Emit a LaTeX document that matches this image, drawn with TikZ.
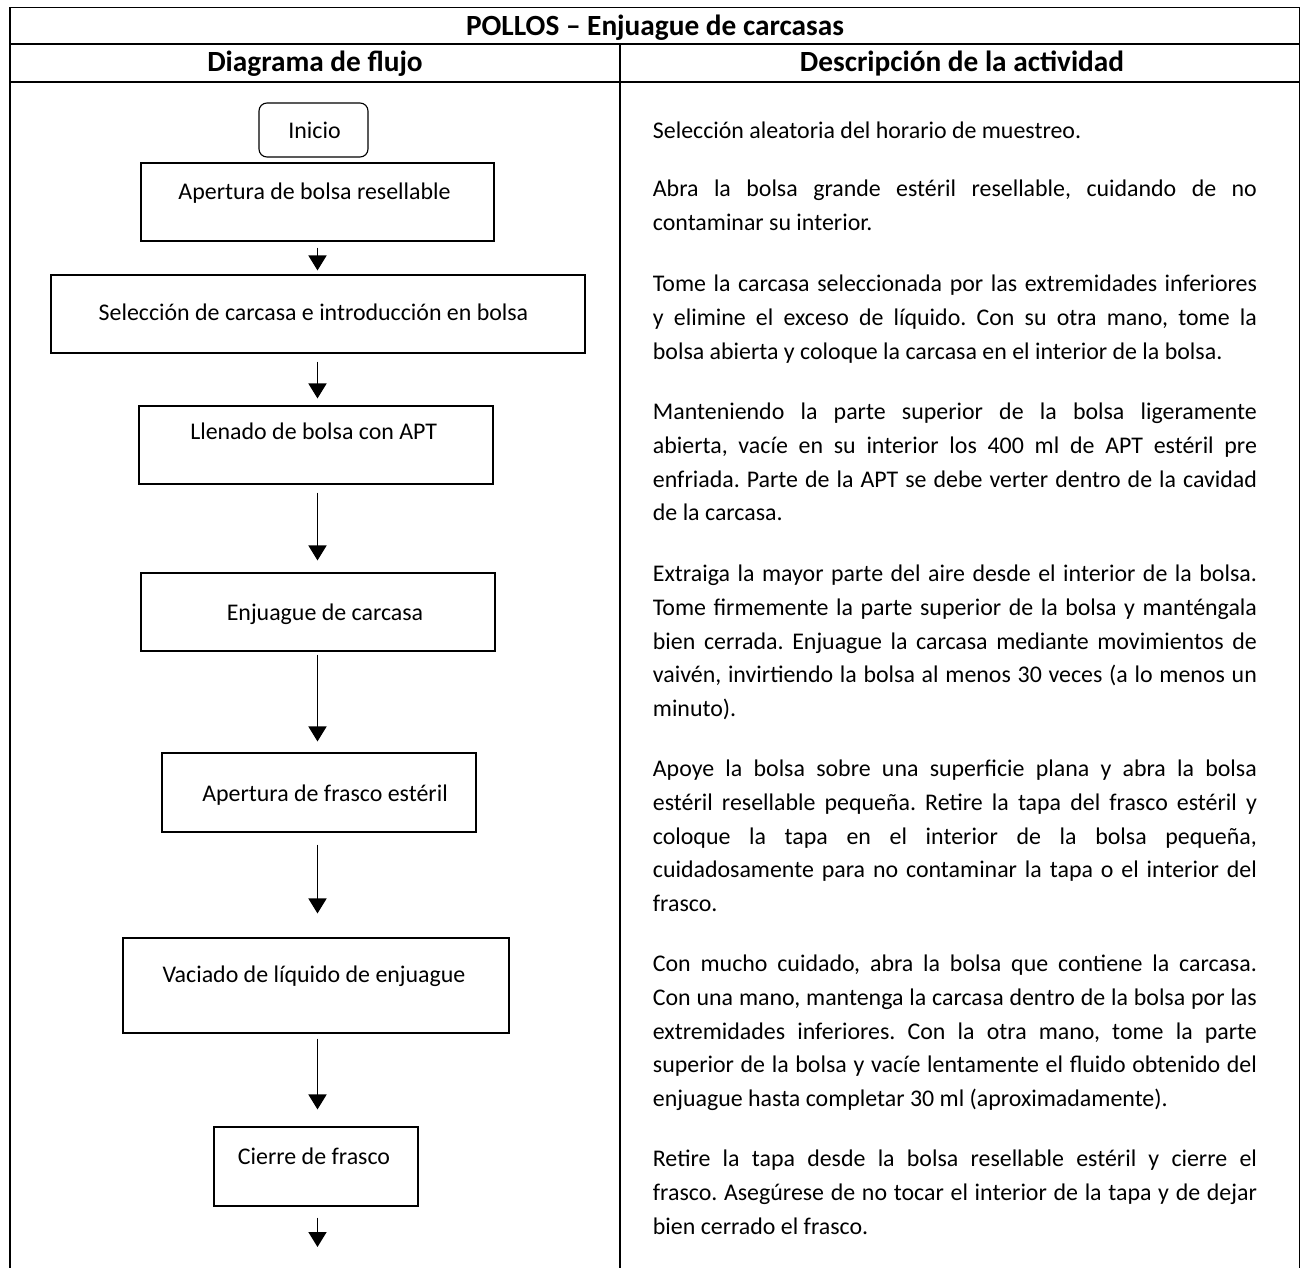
\documentclass[tikz,border=0pt]{standalone}
\usepackage{fontspec}
\setmainfont{Carlito}
\usetikzlibrary{arrows.meta}
\hyphenpenalty=10000
\exhyphenpenalty=10000
\tolerance=10000
\hbadness=10000
\hfuzz=20pt
\frenchspacing
\begin{document}
\frenchspacing
\begin{tikzpicture}[x=1pt,y=-1pt,
  tbl/.style={line width=1.7pt, line cap=rect},
  box/.style={draw, line width=1.1pt, inner sep=0pt, fill=white},
  txt/.style={font=\fontsize{23.9}{33.8}\selectfont, inner sep=0pt, anchor=base},
  para/.style={font=\fontsize{23.9}{33.8}\selectfont\frenchspacing, inner sep=0pt, anchor=base west, text width=604pt, align=justify},
  hdr/.style={font=\bfseries\fontsize{29.3}{35}\selectfont, inner sep=0pt, anchor=base},
  arr/.style={line width=1.7pt, -{Triangle[width=18pt,length=15pt]}}]
\useasboundingbox (0,0) rectangle (1301,1268);
\fill[white] (0,0) rectangle (1301,1268);
% table
\draw[tbl] (10,1270) -- (10,7.5) -- (1299.5,7.5) -- (1299.5,1270);
\draw[tbl] (10,44) -- (1299.5,44);
\draw[tbl] (10,82) -- (1299.5,82);
\draw[tbl] (620,44) -- (620,1270);
% headers
\node[hdr] (ttl) at (655,35.5) {POLLOS – Enjuague de carcasas};
\node[hdr] (h1) at (315,72) {Diagrama de flujo};
\node[hdr] (h2) at (962,72) {Descripción de la actividad};
% flow boxes
\node[box, rounded corners=8pt, minimum width=109pt, minimum height=54pt] (b0) at (313.5,130) {};
\node[box, minimum width=353pt, minimum height=78pt] (b1) at (317.5,202) {};
\node[box, minimum width=534pt, minimum height=78pt] (b2) at (318,314) {};
\node[box, minimum width=354pt, minimum height=78pt] (b3) at (316,445) {};
\node[box, minimum width=354pt, minimum height=78pt] (b4) at (318,612) {};
\node[box, minimum width=314pt, minimum height=79pt] (b5) at (319,792.5) {};
\node[box, minimum width=386pt, minimum height=95pt] (b6) at (316,985.5) {};
\node[box, minimum width=204pt, minimum height=79pt] (b7) at (316,1166.5) {};
% box texts
\node[txt] (t0) at (314.5,138.5) {Inicio};
\node[txt] (t1) at (314.5,199.5) {Apertura de bolsa resellable};
\node[txt] (t2) at (313.5,320.5) {Selección de carcasa e introducción en bolsa};
\node[txt] (t3) at (313.7,439.5) {Llenado de bolsa con APT};
\node[txt] (t4) at (325,620.5) {Enjuague de carcasa};
\node[txt] (t5) at (325,801.5) {Apertura de frasco estéril};
\node[txt] (t6) at (314,982.5) {Vaciado de líquido de enjuague};
\node[txt] (t7) at (314,1164.5) {Cierre de frasco};
% arrows
\coordinate (endp) at (317.5,1247);
\draw[arr, shorten <=6pt, shorten >=4pt] (b1.south -| 317.5,0) -- (b2.north -| 317.5,0);
\draw[arr, shorten <=8pt, shorten >=7pt] (b2.south -| 317.5,0) -- (b3.north -| 317.5,0);
\draw[arr, shorten <=8pt, shorten >=12pt] (b3.south -| 317.5,0) -- (b4.north -| 317.5,0);
\draw[arr, shorten <=3pt, shorten >=11pt] (b4.south -| 317.5,0) -- (b5.north -| 317.5,0);
\draw[arr, shorten <=12pt, shorten >=24pt] (b5.south -| 317.5,0) -- (b6.north -| 317.5,0);
\draw[arr, shorten <=5pt, shorten >=17pt] (b6.south -| 317.5,0) -- (b7.north -| 317.5,0);
\draw[arr, shorten <=11pt] (b7.south -| 317.5,0) -- (endp);
% descriptions
\node[para] (p1) at (652.7,138.5) {Selección aleatoria del horario de muestreo.};
\node[para] (p2) at (652.7,196.5) {Abra la bolsa grande estéril resellable, cuidando de no\linebreak contaminar su interior.};
\node[para] (p3) at (652.7,291.5) {Tome la carcasa seleccionada por las extremidades inferiores\linebreak y elimine el exceso de líquido. Con su otra mano, tome la\linebreak bolsa abierta y coloque la carcasa en el interior de la bolsa.};
\node[para] (p4) at (652.7,419.5) {Manteniendo la parte superior de la bolsa ligeramente\linebreak abierta, vacíe en su interior los 400 ml de APT estéril pre\linebreak enfriada. Parte de la APT se debe verter dentro de la cavidad\linebreak de la carcasa.};
\node[para] (p5) at (652.7,581.5) {Extraiga la mayor parte del aire desde el interior de la bolsa.\linebreak Tome firmemente la parte superior de la bolsa y manténgala\linebreak bien cerrada. Enjuague la carcasa mediante movimientos de\linebreak vaivén, invirtiendo la bolsa al menos 30 veces (a lo menos un\linebreak minuto).};
\node[para] (p6) at (652.7,776.5) {Apoye la bolsa sobre una superficie plana y abra la bolsa\linebreak estéril resellable pequeña. Retire la tapa del frasco estéril y\linebreak coloque la tapa en el interior de la bolsa pequeña,\linebreak cuidadosamente para no contaminar la tapa o el interior del\linebreak frasco.};
\node[para] (p7) at (652.7,971.5) {Con mucho cuidado, abra la bolsa que contiene la carcasa.\linebreak Con una mano, mantenga la carcasa dentro de la bolsa por las\linebreak extremidades inferiores. Con la otra mano, tome la parte\linebreak superior de la bolsa y vacíe lentamente el fluido obtenido del\linebreak enjuague hasta completar 30 ml (aproximadamente).};
\node[para] (p8) at (652.7,1166.5) {Retire la tapa desde la bolsa resellable estéril y cierre el\linebreak frasco. Asegúrese de no tocar el interior de la tapa y de dejar\linebreak bien cerrado el frasco.};
\end{tikzpicture}
\end{document}
